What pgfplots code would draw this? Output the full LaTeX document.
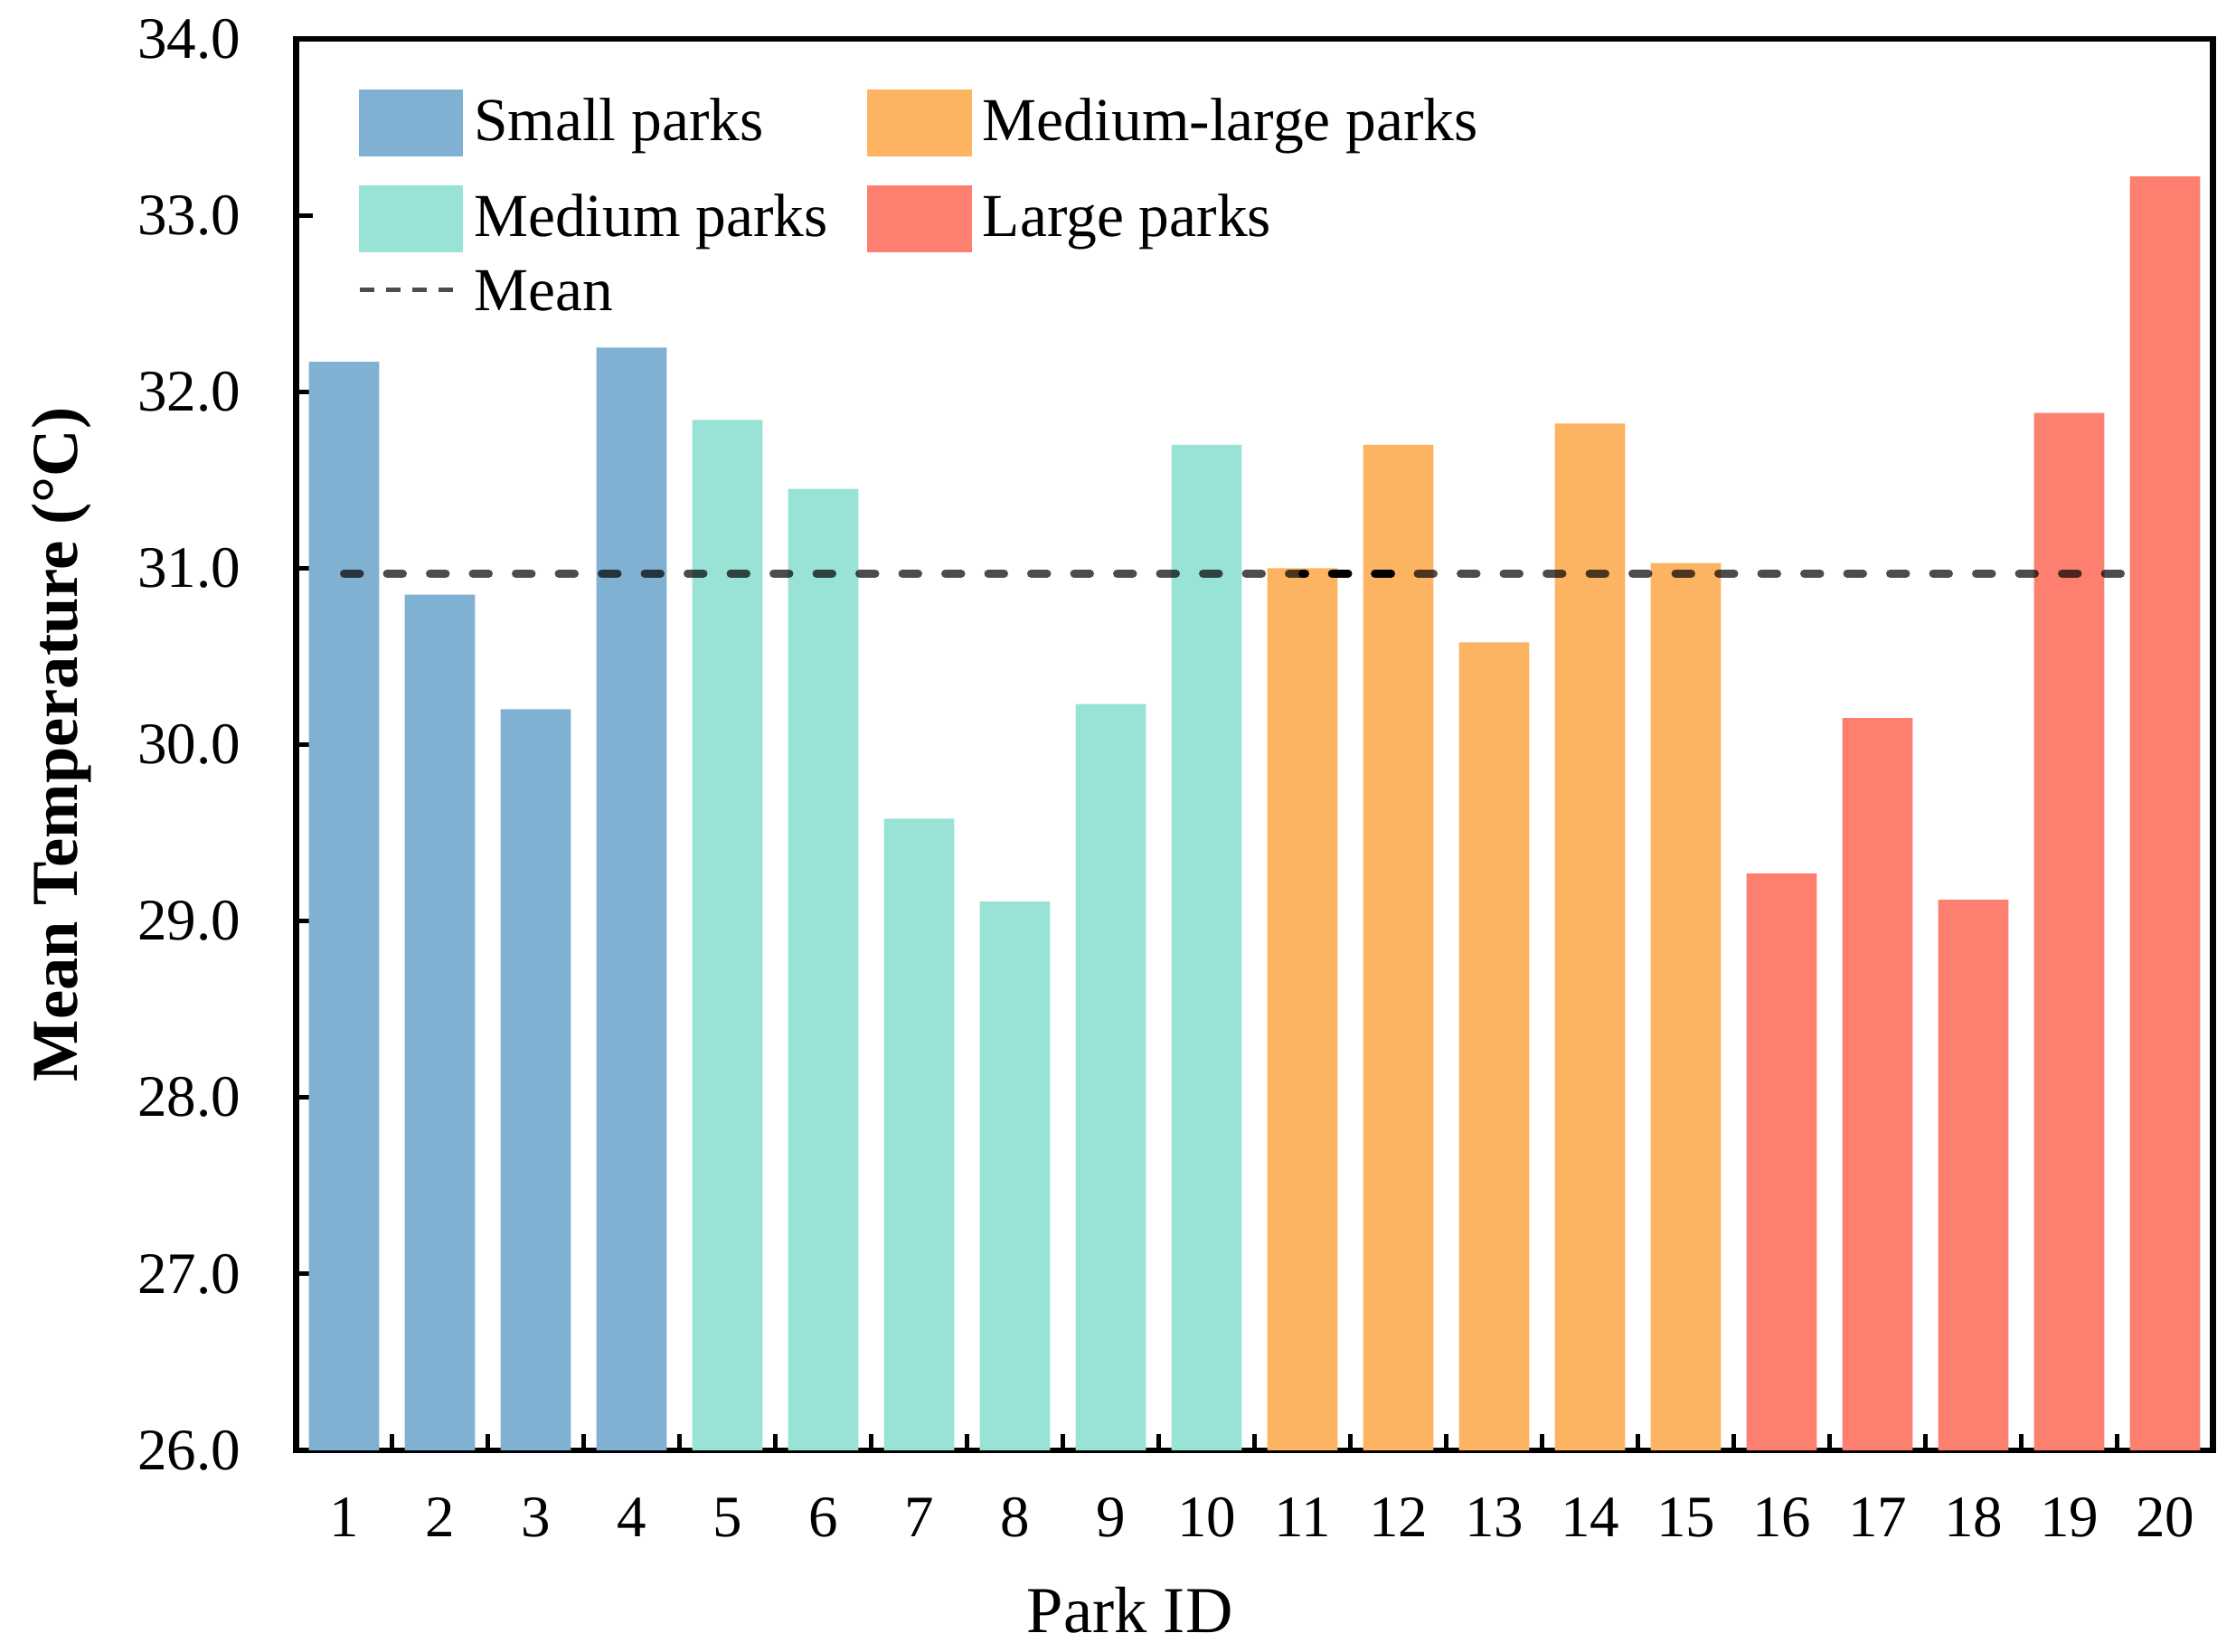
\documentclass[border=0pt]{standalone}
\usepackage{fontspec}
\setmainfont{Liberation Serif}
\usepackage{pgfplots}
\pgfplotsset{compat=1.18}
\definecolor{cSmall}{HTML}{80B1D3}
\definecolor{cMedium}{HTML}{98E2D6}
\definecolor{cMedLarge}{HTML}{FDB462}
\definecolor{cLarge}{HTML}{FD7F70}
\begin{document}
\begin{tikzpicture}
\begin{axis}[
  name=ax,
  scale only axis,
  width=424pt, height=312.2pt,
  xmin=0.5, xmax=20.5, ymin=26, ymax=34,
  axis line style={line width=1.3pt, black},
  ytick={26,27,...,34},
  xtick={1,...,20},
  minor xtick={1.5,2.5,...,19.5},
  major x tick style={draw=none},
  minor x tick style={line width=1pt, black},
  major y tick style={line width=1pt, black},
  tick align=inside,
  major tick length=3.6pt, minor tick length=3.6pt,
  tick pos=left,
  /pgf/number format/assume math mode=true,
  xticklabel style={font=\fontsize{13}{15}\selectfont, yshift=-7pt},
  yticklabel style={font=\fontsize{13}{15}\selectfont, xshift=-8.8pt,
    /pgf/number format/fixed, /pgf/number format/fixed zerofill, /pgf/number format/precision=1},
  xlabel={Park ID},
  ylabel={Mean Temperature (°C)},
  every axis x label/.style={at={(axis description cs:0.435,-0.113)}, anchor=center, font=\fontsize{14.5}{17}\selectfont},
  every axis y label/.style={at={(axis description cs:-0.1226,0.5)}, anchor=center, rotate=90, font=\bfseries\fontsize{14.5}{17}\selectfont},
  legend columns=2,
  legend cell align=left,
  legend style={draw=none, fill=none, inner sep=0pt, anchor=north west, at={(0.0314,0.9789)},
    font=\fontsize{13.5}{16}\selectfont, row sep=2pt,
    /tikz/every even column/.append style={column sep=6.7pt},
    nodes={inner sep=2pt}},
]
\addplot[ybar, bar width=0.735, bar shift=0pt, fill=cSmall, draw=none, forget plot]
  coordinates {(1,32.17)(2,30.85)(3,30.20)(4,32.25)};
\addplot[ybar, bar width=0.735, bar shift=0pt, fill=cMedium, draw=none, forget plot]
  coordinates {(5,31.84)(6,31.45)(7,29.58)(8,29.11)(9,30.23)(10,31.70)};
\addplot[ybar, bar width=0.735, bar shift=0pt, fill=cMedLarge, draw=none, forget plot]
  coordinates {(11,31.00)(12,31.70)(13,30.58)(14,31.82)(15,31.03)};
\addplot[ybar, bar width=0.735, bar shift=0pt, fill=cLarge, draw=none, forget plot]
  coordinates {(16,29.27)(17,30.15)(18,29.12)(19,31.88)(20,33.22)};
\addplot[forget plot, black, opacity=0.7, line width=1.8pt, line cap=round, dash pattern=on 3.5pt off 6pt]
  coordinates {(1,30.97)(19.8,30.97)};
\addplot[forget plot, black, line width=1.8pt, line cap=round, dash pattern=on 3.5pt off 6pt, dash phase=2.9pt]
  coordinates {(11,30.97)(12,30.97)};
\addlegendimage{legend image code/.code={\fill[cSmall] (0pt,-7.2pt) rectangle (22.7pt,7.2pt); \path (0pt,11.6pt) (23.1pt,0pt);}}
\addlegendimage{legend image code/.code={\fill[cMedLarge] (0pt,-7.2pt) rectangle (22.7pt,7.2pt); \path (0pt,11.6pt) (23.1pt,0pt);}}
\addlegendimage{legend image code/.code={\fill[cMedium] (0pt,-7.2pt) rectangle (22.7pt,7.2pt); \path (0pt,11.6pt) (23.1pt,0pt);}}
\addlegendimage{legend image code/.code={\fill[cLarge] (0pt,-7.2pt) rectangle (22.7pt,7.2pt); \path (0pt,11.6pt) (23.1pt,0pt);}}
\addlegendimage{legend image code/.code={\draw[black, opacity=0.7, line width=1pt, dash pattern=on 3.2pt off 2.6pt] (0pt,1pt) -- (21.2pt,1pt); \path (23.1pt,1pt);}}
\legend{Small parks, Medium-large parks, Medium parks, Large parks, Mean}
\end{axis}
\pgfresetboundingbox
\path[use as bounding box] ([shift={(-65.5pt,-44.6pt)}]ax.south west) rectangle ([shift={(5.1pt,8.6pt)}]ax.north east);
\end{tikzpicture}
\end{document}
